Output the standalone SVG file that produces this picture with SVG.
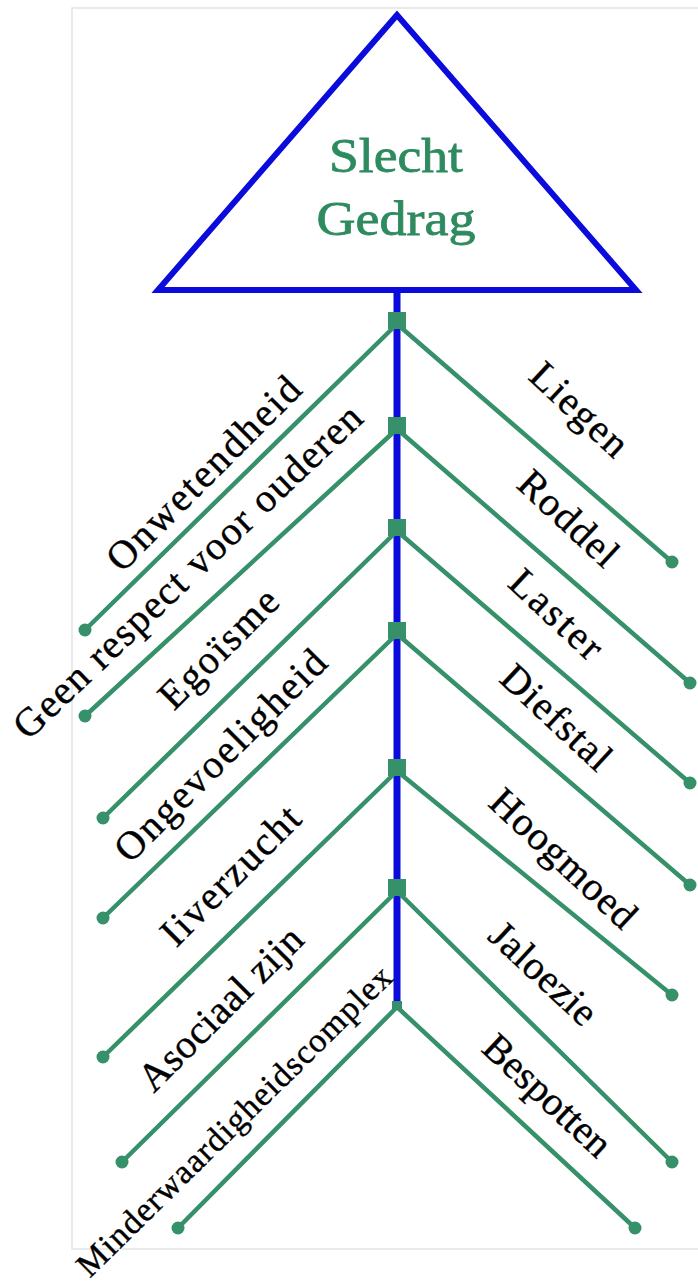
<svg xmlns="http://www.w3.org/2000/svg" width="698" height="1282" viewBox="0 0 698 1282">
<style>
.frame{fill:#ffffff;stroke:#e3e3e3;stroke-width:1.5}
.blue{fill:none;stroke:#0b0bdc;stroke-width:6;stroke-linejoin:miter}
.spine{stroke:#0b0bdc;stroke-width:7}
.br{stroke:#36906a;stroke-width:4.5;stroke-linecap:round}
.dot{fill:#36906a}
.jn{fill:#36906a}
.title{font-family:"Liberation Serif",serif;font-size:48px;fill:#2e8b5f;stroke:#2e8b5f;stroke-width:0.8;text-anchor:middle}
.lbl{font-family:"Liberation Serif",serif;font-size:40px;fill:#000;stroke:#000;stroke-width:0.4;text-anchor:middle}
</style>
<rect class="frame" x="72" y="8" width="640" height="1241"/>
<g id="title-node">
<polygon class="blue" points="397,15 158,290 636,290"/>
<text class="title" x="396" y="172" textLength="134" lengthAdjust="spacingAndGlyphs">Slecht</text>
<text class="title" x="396" y="235" textLength="159" lengthAdjust="spacingAndGlyphs">Gedrag</text>
</g>
<g id="connectors">
<line class="spine" x1="397" y1="290" x2="397" y2="1004"/>
<line class="br" x1="397" y1="324" x2="85" y2="630"/>
<line class="br" x1="397" y1="324" x2="672" y2="562"/>
<line class="br" x1="397" y1="429" x2="85" y2="716"/>
<line class="br" x1="397" y1="429" x2="690" y2="683"/>
<line class="br" x1="397" y1="531" x2="103" y2="818"/>
<line class="br" x1="397" y1="531" x2="690" y2="783"/>
<line class="br" x1="397" y1="634" x2="103" y2="918"/>
<line class="br" x1="397" y1="634" x2="690" y2="885"/>
<line class="br" x1="397" y1="771" x2="103" y2="1057"/>
<line class="br" x1="397" y1="771" x2="672" y2="995"/>
<line class="br" x1="397" y1="891" x2="122" y2="1162"/>
<line class="br" x1="397" y1="891" x2="672" y2="1162"/>
<line class="br" x1="397" y1="1007" x2="178" y2="1228"/>
<line class="br" x1="397" y1="1007" x2="635" y2="1228"/>
<rect class="jn" x="388" y="312" width="18" height="17"/>
<rect class="jn" x="388" y="417" width="18" height="17"/>
<rect class="jn" x="388" y="519" width="18" height="17"/>
<rect class="jn" x="388" y="622" width="18" height="17"/>
<rect class="jn" x="388" y="759" width="18" height="17"/>
<rect class="jn" x="388" y="879" width="18" height="17"/>
<rect class="jn" x="392" y="1001" width="10" height="9"/>
</g>
<g id="n-onwetendheid"><circle class="dot" cx="85" cy="630" r="6.5"/><text class="lbl" transform="translate(205,475) rotate(-45)" y="11" textLength="257">Onwetendheid</text></g>
<g id="n-geen-respect"><circle class="dot" cx="85" cy="716" r="6.5"/><text class="lbl" transform="translate(189,573) rotate(-43.6)" y="11" textLength="465">Geen respect voor ouderen</text></g>
<g id="n-egoisme"><circle class="dot" cx="103" cy="818" r="6.5"/><text class="lbl" transform="translate(220,650) rotate(-45)" y="11" textLength="152">Egoïsme</text></g>
<g id="n-ongevoeligheid"><circle class="dot" cx="103" cy="918" r="6.5"/><text class="lbl" transform="translate(222,757) rotate(-45)" y="11" textLength="282">Ongevoeligheid</text></g>
<g id="n-iiverzucht"><circle class="dot" cx="103" cy="1057" r="6.5"/><text class="lbl" transform="translate(232,877) rotate(-45)" y="11" textLength="180">Iiverzucht</text></g>
<g id="n-asociaal"><circle class="dot" cx="122" cy="1162" r="6.5"/><text class="lbl" transform="translate(222,1010) rotate(-45)" y="11" textLength="215">Asociaal zijn</text></g>
<g id="n-minderwaardigheid"><circle class="dot" cx="178" cy="1228" r="6.5"/><text class="lbl" style="font-size:34px" transform="translate(235,1122) rotate(-44.5)" y="10" textLength="427">Minderwaardigheidscomplex</text></g>
<g id="n-liegen"><circle class="dot" cx="672" cy="562" r="6.5"/><text class="lbl" transform="translate(578,411) rotate(43)" y="11" textLength="119">Liegen</text></g>
<g id="n-roddel"><circle class="dot" cx="690" cy="683" r="6.5"/><text class="lbl" transform="translate(567,520) rotate(43)" y="11" textLength="122">Roddel</text></g>
<g id="n-laster"><circle class="dot" cx="690" cy="783" r="6.5"/><text class="lbl" transform="translate(555,616) rotate(43)" y="11" textLength="113">Laster</text></g>
<g id="n-diefstal"><circle class="dot" cx="690" cy="885" r="6.5"/><text class="lbl" transform="translate(555,719) rotate(43)" y="11" textLength="136">Diefstal</text></g>
<g id="n-hoogmoed"><circle class="dot" cx="672" cy="995" r="6.5"/><text class="lbl" transform="translate(562,860) rotate(43)" y="11" textLength="185">Hoogmoed</text></g>
<g id="n-jaloezie"><circle class="dot" cx="672" cy="1162" r="6.5"/><text class="lbl" transform="translate(542,975) rotate(43)" y="11" textLength="132">Jaloezie</text></g>
<g id="n-bespotten"><circle class="dot" cx="635" cy="1228" r="6.5"/><text class="lbl" transform="translate(546,1097) rotate(43)" y="11" textLength="160">Bespotten</text></g>
</svg>
